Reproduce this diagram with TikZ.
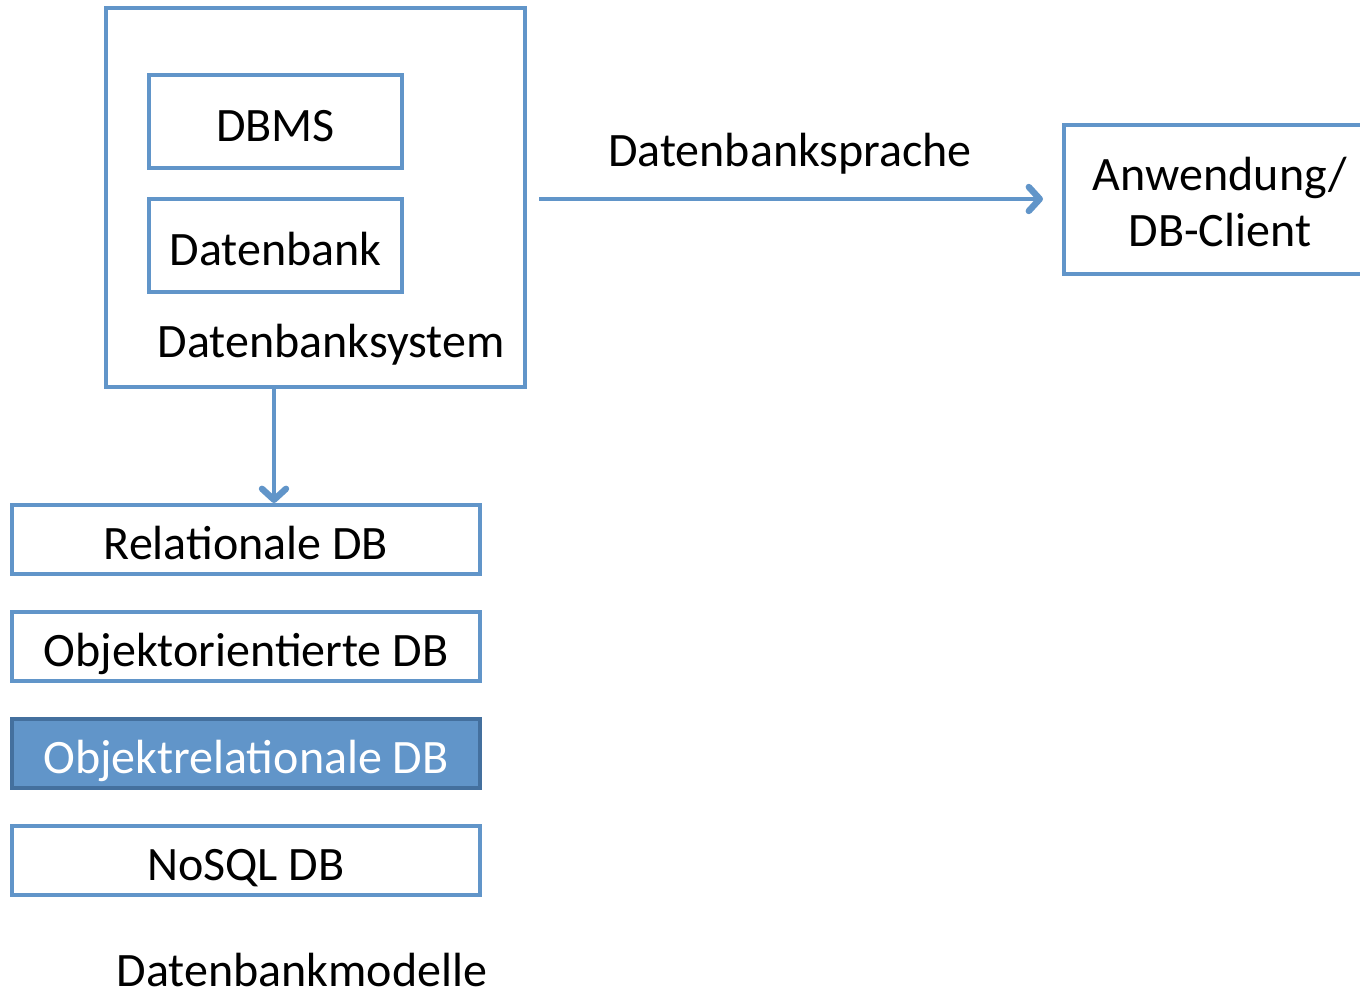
\documentclass[tikz,border=0pt]{standalone}
\usepackage{fontspec}
\setmainfont{Carlito}
\usetikzlibrary{arrows.meta}
\definecolor{boxblue}{HTML}{6195C9}
\definecolor{boxedge}{HTML}{44709E}
\begin{document}
\begin{tikzpicture}[x=1pt,y=-1pt,
  every node/.style={inner sep=0pt,font=\fontsize{48}{56}\selectfont},
  frame/.style={draw=boxblue,line width=4pt,rectangle,
    text height=40.4pt,text depth=0pt,align=center},
  filled/.style={frame,draw=boxedge,fill=boxblue,text=white},
  link/.style={draw=boxblue,line width=3.4pt,
    -{Straight Barb[length=11pt,width=24pt,line width=3pt 1,round]}},
  caption/.style={anchor=base}]
  \path[use as bounding box] (0,0) rectangle (1360,996);
  \clip (0,0) rectangle (1360,996);

  % database system with its two parts
  \node[frame,minimum width=419pt,minimum height=379pt] (sys) at (315.5,197.5) {};
  \node[frame,minimum width=253pt,minimum height=93pt] (dbms) at (275.5,121.5) {DBMS};
  \node[frame,minimum width=253pt,minimum height=93pt] (db) at (275.5,245.5) {Datenbank};
  \node[caption] (systxt) at (331,357) {Datenbanksystem};

  % application side
  \node[frame,minimum width=326pt,minimum height=149pt,text height=0pt] (app) at (1227,199.5) {};
  \node[anchor=base] (app1) at (1220,190) {Anwendung/};
  \node[anchor=base] (app2) at (1220,246) {DB-Client};
  \coordinate (srcR) at (539,199);
  \coordinate (dstR) at (1043,199);
  \draw[link] (srcR) -- (dstR);
  \node[caption] (lang) at (790,166.5) {Datenbanksprache};

  % database models
  \node[frame,minimum width=468pt,minimum height=69pt] (rel) at (246,539.5) {Relationale DB};
  \node[frame,minimum width=468pt,minimum height=69pt] (oo) at (246,646.5) {Objektorientierte DB};
  \node[filled,minimum width=468pt,minimum height=69pt] (orel) at (246,753.5) {Objektrelationale DB};
  \node[frame,minimum width=468pt,minimum height=69pt] (nosql) at (246,860.5) {NoSQL DB};
  \node[caption] (models) at (302,986) {Datenbankmodelle};

  \draw[link] (sys.south -| 274,0) -- (rel.north -| 274,0);
\end{tikzpicture}
\end{document}
